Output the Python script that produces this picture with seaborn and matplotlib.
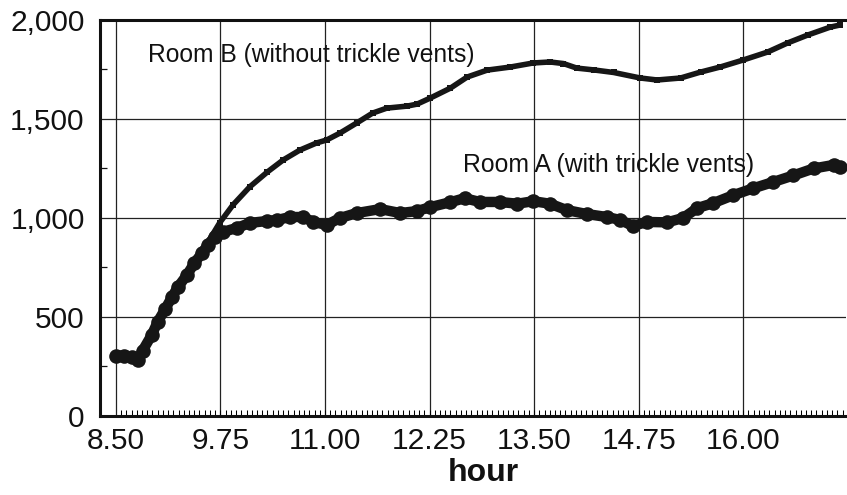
import numpy as np
import pandas as pd
import matplotlib
matplotlib.use("Agg")
import matplotlib.pyplot as plt
from matplotlib.ticker import MultipleLocator, FixedLocator, FuncFormatter
import seaborn as sns

# ---- data ----
hours_a = [8.50, 8.60, 8.69, 8.76, 8.82, 8.93, 9.00, 9.09, 9.17, 9.24, 9.35, 9.44,
           9.53, 9.60, 9.68, 9.78, 9.95, 10.10, 10.31, 10.43, 10.58, 10.74, 10.86,
           11.02, 11.18, 11.38, 11.66, 11.90, 12.10, 12.26, 12.50, 12.67, 12.85,
           13.09, 13.30, 13.49, 13.69, 13.89, 14.13, 14.37, 14.53, 14.68, 14.85,
           15.09, 15.28, 15.45, 15.64, 15.88, 16.12, 16.36, 16.60, 16.84, 17.08, 17.16]
co2_a = [305, 305, 300, 282, 330, 410, 475, 540, 600, 650, 712, 773,
         823, 864, 904, 930, 950, 975, 985, 990, 1005, 1005, 980,
         965, 1000, 1025, 1045, 1025, 1035, 1055, 1080, 1100, 1081,
         1081, 1072, 1085, 1072, 1040, 1020, 1005, 990, 960, 980,
         978, 1000, 1050, 1075, 1115, 1150, 1182, 1215, 1250, 1268, 1260]

hours_b = [8.50, 8.60, 8.69, 8.76, 8.82, 8.93, 9.00, 9.09, 9.17, 9.24, 9.35, 9.44,
           9.53, 9.59, 9.74, 9.90, 10.10, 10.31, 10.50, 10.70, 10.90, 11.02, 11.18,
           11.38, 11.57, 11.74, 11.98, 12.10, 12.26, 12.50, 12.70, 12.94, 13.21,
           13.49, 13.69, 13.85, 14.01, 14.21, 14.45, 14.77, 14.97, 15.25, 15.49,
           15.72, 16.00, 16.29, 16.53, 16.77, 17.04, 17.16]
co2_b = [305, 305, 300, 282, 330, 410, 475, 540, 600, 650, 712, 773,
         823, 870, 975, 1066, 1157, 1232, 1293, 1343, 1379, 1394, 1429,
         1480, 1530, 1555, 1565, 1575, 1606, 1656, 1712, 1747, 1762,
         1783, 1788, 1780, 1757, 1748, 1735, 1707, 1697, 1707, 1737,
         1762, 1798, 1838, 1884, 1924, 1964, 1975]

x_ticks = [8.50, 9.75, 11.00, 12.25, 13.50, 14.75, 16.00]
x_tick_labels = ["8.50", "9.75", "11.00", "12.25", "13.50", "14.75", "16.00"]
y_ticks = [0, 500, 1000, 1500, 2000]
label_a = "Room A (with trickle vents)"
label_b = "Room B (without trickle vents)"
x_label = "hour"

df_a = pd.DataFrame({"hour": hours_a, "co2": co2_a})
df_b = pd.DataFrame({"hour": hours_b, "co2": co2_b})

sns.set_style("white")
plt.rcParams["font.family"] = ["Liberation Sans", "DejaVu Sans"]

fig = plt.figure(figsize=(8.47, 4.95), dpi=100)
ax = fig.add_axes([0.118, 0.1596, 0.881, 0.8])

ink = "#161616"
sns.lineplot(data=df_b, x="hour", y="co2", ax=ax, color=ink, linewidth=4.0,
             marker="s", markersize=5, markeredgewidth=0, sort=False)
sns.lineplot(data=df_a, x="hour", y="co2", ax=ax, color=ink, linewidth=7.5,
             marker="o", markersize=10.5, markeredgewidth=0, sort=False)

ax.set_xlim(8.31, 17.23)
ax.set_ylim(0, 2000)

ax.xaxis.set_major_locator(FixedLocator(x_ticks))
ax.set_xticklabels(x_tick_labels)
ax.xaxis.set_minor_locator(FixedLocator(np.arange(8.5625, 17.23, 0.0625)))
ax.xaxis.remove_overlapping_locs = False
ax.yaxis.set_major_locator(FixedLocator(y_ticks))
ax.yaxis.set_major_formatter(FuncFormatter(lambda v, p: f"{int(v):,}"))
ax.yaxis.set_minor_locator(MultipleLocator(250))

ax.grid(True, which="major", color="#222222", linewidth=0.9)
ax.tick_params(axis="both", which="major", length=0, labelsize=21.5, colors="#111111")
ax.tick_params(axis="x", which="major", pad=8)
ax.tick_params(axis="y", which="major", pad=11)
ax.tick_params(axis="x", which="minor", direction="in", length=4.5, width=0.75,
               bottom=True, top=False, color="#000000")
ax.tick_params(axis="y", which="minor", direction="in", length=5, width=0.9,
               left=True, color="#111111")

for side in ["left", "bottom", "top"]:
    ax.spines[side].set_visible(True)
    ax.spines[side].set_linewidth(2.2)
    ax.spines[side].set_color("#111111")
ax.spines["right"].set_visible(False)

ax.set_ylabel("")
ax.set_xlabel(x_label, fontsize=23, fontweight="bold", color="#111111")
ax.xaxis.set_label_coords(0.514, -0.105)

ax.text(8.88, 1823, label_b, fontsize=17.7, va="center", ha="left", color="#111111")
ax.text(12.65, 1268, label_a, fontsize=17.8, va="center", ha="left", color="#111111")

fig.savefig("out.png", dpi=100)
